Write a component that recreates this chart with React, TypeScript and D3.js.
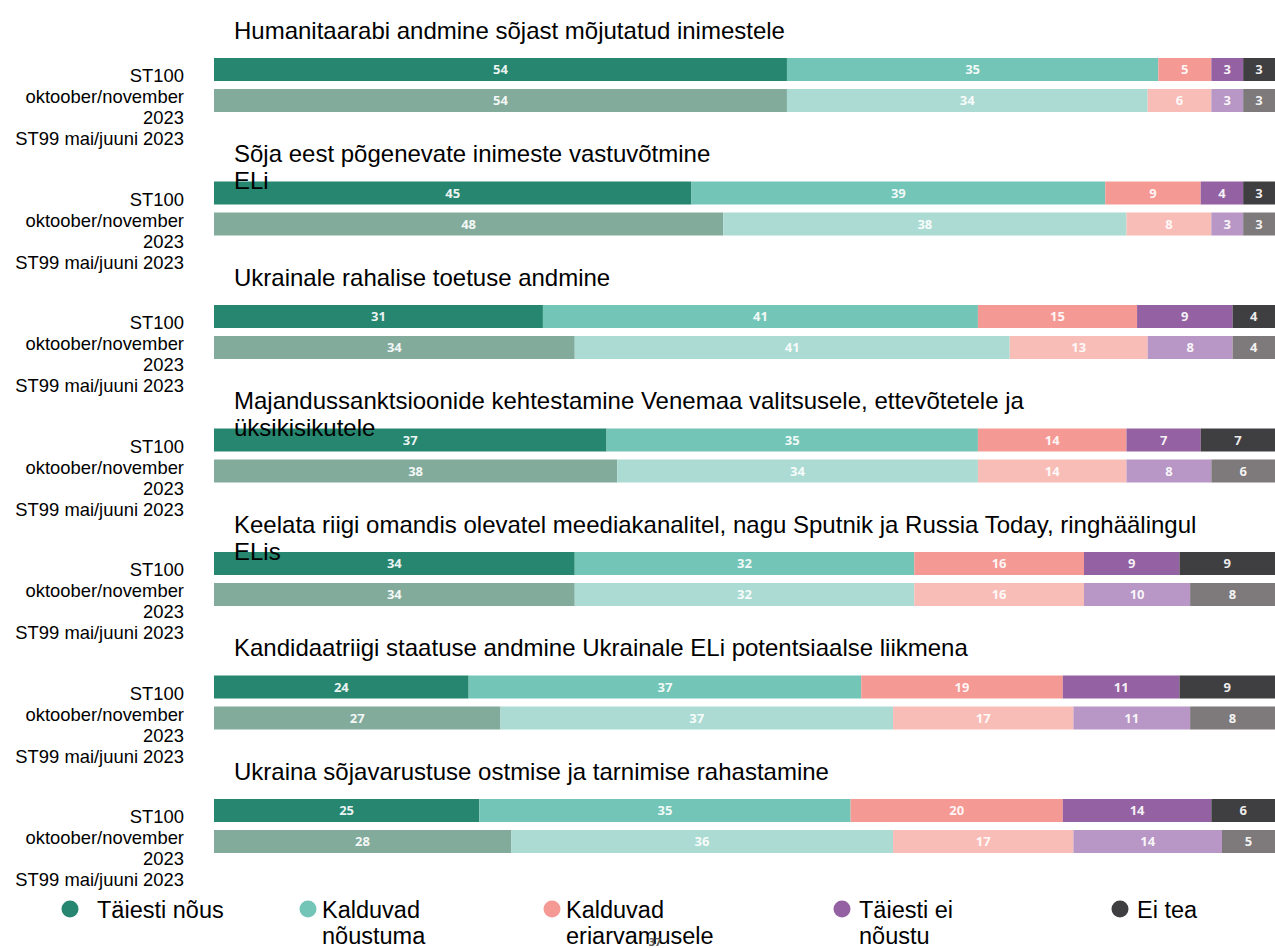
import React from 'react';
import * as d3 from 'd3';

// ---------- DATA ----------
const categories = ['Täiesti nõus', 'Kalduvad nõustuma', 'Kalduvad eriarvamusele', 'Täiesti ei nõustu', 'Ei tea'];
const legendLines = [['Täiesti nõus'], ['Kalduvad', 'nõustuma'], ['Kalduvad', 'eriarvamusele'], ['Täiesti ei', 'nõustu'], ['Ei tea']];

const titles = [
  ['Humanitaarabi andmine sõjast mõjutatud inimestele'],
  ['Sõja eest põgenevate inimeste vastuvõtmine', 'ELi'],
  ['Ukrainale rahalise toetuse andmine'],
  ['Majandussanktsioonide kehtestamine Venemaa valitsusele, ettevõtetele ja', 'üksikisikutele'],
  ['Keelata riigi omandis olevatel meediakanalitel, nagu Sputnik ja Russia Today, ringhäälingul', 'ELis'],
  ['Kandidaatriigi staatuse andmine Ukrainale ELi potentsiaalse liikmena'],
  ['Ukraina sõjavarustuse ostmise ja tarnimise rahastamine'],
];

const waveLabelLines = ['ST100', 'oktoober/november', '2023', 'ST99 mai/juuni 2023'];

const current = [
  [54, 35, 5, 3, 3],
  [45, 39, 9, 4, 3],
  [31, 41, 15, 9, 4],
  [37, 35, 14, 7, 7],
  [34, 32, 16, 9, 9],
  [24, 37, 19, 11, 9],
  [25, 35, 20, 14, 6],
];

const previous = [
  [54, 34, 6, 3, 3],
  [48, 38, 8, 3, 3],
  [34, 41, 13, 8, 4],
  [38, 34, 14, 8, 6],
  [34, 32, 16, 10, 8],
  [27, 37, 17, 11, 8],
  [28, 36, 17, 14, 5],
];

// ---------- STYLE / LAYOUT ----------
const currentColors = ['#26866f', '#73c6b7', '#f59995', '#9461a2', '#3f3e41'];
const previousColors = ['#82ab9c', '#acdbd3', '#f9bdb8', '#b896c5', '#7e797a'];

const W = 1275;
const H = 948;
const legendDotX = [70, 308, 552, 842, 1120];
const legendTextX = [97, 322, 566, 859, 1137];

export default function App() {
  const x = d3.scaleLinear().domain([0, 100]).range([214, 1275]);
  const groupTop = d3.scaleLinear().domain([0, titles.length - 1]).range([58, 799]);
  const rowY = d3.scaleBand<string>().domain(['cur', 'prev']).range([0, 54]).paddingInner(0.258).paddingOuter(0);
  const bh = rowY.bandwidth();

  const stackRow = (vals: number[]) => {
    const cum = d3.cumsum(vals);
    return vals.map((v, i) => ({ v, i, x0: cum[i] - v, x1: cum[i] }));
  };

  return (
    <div style={{ position: 'absolute', left: 0, top: 0 }}>
      <svg width={W} height={H} style={{ display: 'block', background: '#fff' }}>
        {titles.map((t, g) => {
          const top = groupTop(g);
          const rows: [string, number[], string[]][] = [
            ['cur', current[g], currentColors],
            ['prev', previous[g], previousColors],
          ];
          return (
            <g key={g}>
              {rows.map(([key, vals, cols]) => (
                <g key={key} transform={`translate(0,${top + (rowY(key) ?? 0)})`}>
                  {stackRow(vals).map((s) => (
                    <g key={s.i}>
                      <rect x={x(s.x0)} y={0} width={x(s.x1) - x(s.x0)} height={bh} fill={cols[s.i]} />
                      <text
                        x={(x(s.x0) + x(s.x1)) / 2}
                        y={bh / 2}
                        dy="0.35em"
                        textAnchor="middle"
                        fill="#ffffff"
                        fillOpacity={0.92}
                        fontFamily="'Open Sans', sans-serif"
                        fontWeight={700}
                        fontSize={13}
                      >
                        {s.v}
                      </text>
                    </g>
                  ))}
                </g>
              ))}
              {t.map((line, li) => (
                <text
                  key={li}
                  x={234}
                  y={top - 27.7 + li * 27}
                  dy="0.35em"
                  fontFamily="'Liberation Sans', Arial, sans-serif"
                  fontSize={24}
                  fill="#000"
                >
                  {line}
                </text>
              ))}
              {waveLabelLines.map((line, li) => (
                <text
                  key={'w' + li}
                  x={184}
                  y={top + 17.7 + li * 21}
                  dy="0.35em"
                  textAnchor="end"
                  fontFamily="'Liberation Sans', Arial, sans-serif"
                  fontSize={18.4}
                  fill="#000"
                >
                  {line}
                </text>
              ))}
            </g>
          );
        })}

        {categories.map((c, i) => (
          <g key={c}>
            <circle cx={legendDotX[i]} cy={909} r={8.5} fill={currentColors[i]} />
            {legendLines[i].map((line, li) => (
              <text
                key={li}
                x={legendTextX[i]}
                y={910 + li * 26}
                dy="0.35em"
                fontFamily="'Liberation Sans', Arial, sans-serif"
                fontSize={23.5}
                fill="#000"
              >
                {line}
              </text>
            ))}
          </g>
        ))}
        <text x={655} y={942} textAnchor="middle" dy="0.35em" fontFamily="'Open Sans', sans-serif" fontWeight={700} fontSize={11} fill="#555">
          37
        </text>
      </svg>
    </div>
  );
}
